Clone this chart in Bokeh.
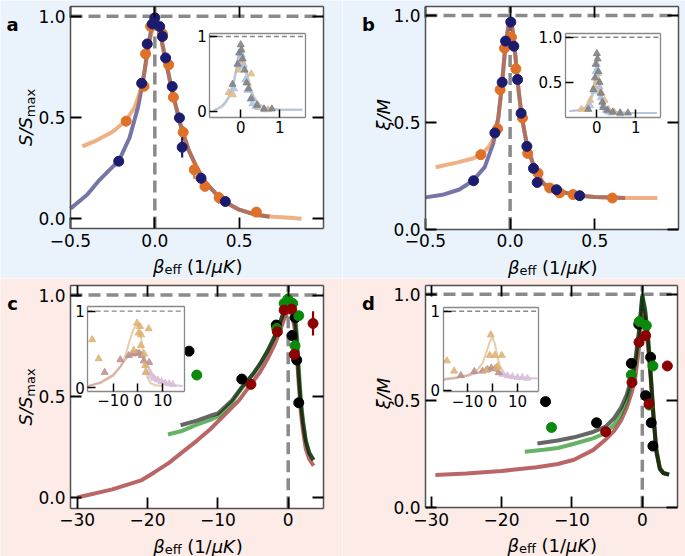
import math
from bokeh.plotting import figure
from bokeh.models import Range1d, LinearAxis, FixedTicker, Label
from bokeh.layouts import column, row
from bokeh.embed import file_html
from bokeh.resources import INLINE

FONT = "DejaVu Sans"
BG_TOP = "#eaf3fc"
BG_BOT = "#fcebe6"

# ---------------- panel a data ----------------
a_blue_x = [-0.214, -0.078, -0.045, -0.015, 0.0, 0.029, 0.045, 0.064, 0.103, 0.146, 0.162, 0.274, 0.418]
a_blue_y = [0.284, 0.669, 0.863, 0.962, 0.992, 0.949, 0.900, 0.794, 0.653, 0.498, 0.353, 0.200, 0.085]
a_blue_e = [0, 0, 0, 0, 0, 0, 0, 0, 0, 0, 0.05, 0, 0]
a_orng_x = [-0.170, -0.064, -0.055, -0.025, 0.045, 0.082, 0.110, 0.168, 0.234, 0.297, 0.381, 0.602]
a_orng_y = [0.482, 0.654, 0.814, 0.950, 0.913, 0.760, 0.600, 0.427, 0.242, 0.160, 0.104, 0.033]
a_orng_e = [0, 0, 0, 0, 0, 0, 0, 0.03, 0.045, 0, 0.03, 0]
a_blue_fit_x = [-0.50, -0.40, -0.33, -0.27, -0.214, -0.15, -0.10, -0.07, -0.04, -0.02, 0.0, 0.02, 0.04, 0.07, 0.10, 0.15, 0.20, 0.25, 0.30, 0.40, 0.50, 0.60, 0.68]
a_blue_fit_y = [0.05, 0.12, 0.19, 0.24, 0.285, 0.40, 0.55, 0.68, 0.85, 0.94, 0.98, 0.95, 0.88, 0.76, 0.64, 0.47, 0.34, 0.25, 0.18, 0.09, 0.045, 0.02, 0.01]
a_orng_fit_x = [-0.43, -0.35, -0.25, -0.17, -0.12, -0.09, -0.06, -0.03, -0.01, 0.0, 0.02, 0.04, 0.07, 0.10, 0.15, 0.20, 0.25, 0.30, 0.40, 0.50, 0.60, 0.70, 0.80, 0.87]
a_orng_fit_y = [0.357, 0.385, 0.43, 0.485, 0.55, 0.62, 0.73, 0.88, 0.95, 0.97, 0.95, 0.88, 0.76, 0.64, 0.47, 0.34, 0.25, 0.18, 0.09, 0.045, 0.02, 0.01, 0.005, 0.0]
# inset a
ia_gray_x = [-0.21, -0.08, -0.04, 0.0, 0.02, 0.05, 0.10, 0.15, 0.20, 0.27, 0.42, 0.60, 0.80]
ia_gray_y = [0.36, 0.63, 0.78, 0.89, 0.82, 0.70, 0.55, 0.38, 0.30, 0.17, 0.08, 0.03, 0.03]
ia_lblu_x = [-0.17, -0.05, 0.0, 0.03, 0.07, 0.12, 0.17, 0.25, 0.30, 0.38, 0.60]
ia_lblu_y = [0.30, 0.62, 0.72, 0.75, 0.60, 0.42, 0.28, 0.16, 0.10, 0.06, 0.02]
ia_tan_x = [-0.31, -0.20, -0.05, -0.02, 0.03, 0.08, 0.18, 0.27, 0.45, 0.70]
ia_tan_y = [0.25, 0.22, 0.55, 0.66, 0.68, 0.62, 0.38, 0.50, 0.05, 0.02]
ia_fit_x = [-0.69, -0.50, -0.40, -0.30, -0.18, -0.10, -0.05, 0.0, 0.05, 0.10, 0.17, 0.25, 0.34, 0.50, 0.68, 1.00, 1.58]
ia_gfit_y = [0.01, 0.06, 0.12, 0.20, 0.40, 0.62, 0.78, 0.86, 0.78, 0.64, 0.50, 0.32, 0.19, 0.08, 0.04, 0.02, 0.02]
ia_bfit_y = [0.01, 0.05, 0.10, 0.18, 0.36, 0.56, 0.68, 0.74, 0.68, 0.56, 0.42, 0.27, 0.16, 0.07, 0.03, 0.02, 0.02]

# ---------------- panel b data ----------------
b_blue_x = [-0.216, -0.090, -0.047, -0.027, 0.004, 0.022, 0.044, 0.065, 0.099, 0.138, 0.160, 0.274, 0.411]
b_blue_y = [0.226, 0.450, 0.687, 0.880, 0.969, 0.856, 0.700, 0.542, 0.387, 0.284, 0.218, 0.184, 0.156]
b_orng_x = [-0.173, -0.074, -0.059, -0.033, 0.008, 0.034, 0.073, 0.104, 0.165, 0.234, 0.293, 0.372, 0.604]
b_orng_y = [0.348, 0.469, 0.652, 0.847, 0.898, 0.750, 0.520, 0.354, 0.261, 0.192, 0.169, 0.161, 0.145]
b_blue_fit_x = [-0.50, -0.40, -0.30, -0.22, -0.15, -0.10, -0.07, -0.05, -0.03, -0.01, 0.0, 0.01, 0.03, 0.05, 0.07, 0.10, 0.15, 0.20, 0.30, 0.40, 0.50, 0.68]
b_blue_fit_y = [0.148, 0.16, 0.185, 0.226, 0.29, 0.40, 0.52, 0.66, 0.84, 0.95, 0.98, 0.96, 0.82, 0.65, 0.52, 0.39, 0.27, 0.21, 0.175, 0.157, 0.15, 0.145]
b_orng_fit_x = [-0.44, -0.31, -0.22, -0.17, -0.12, -0.09, -0.07, -0.05, -0.03, -0.01, 0.0, 0.01, 0.03, 0.05, 0.07, 0.10, 0.15, 0.20, 0.30, 0.40, 0.50, 0.60, 0.70, 0.87]
b_orng_fit_y = [0.289, 0.312, 0.33, 0.348, 0.39, 0.44, 0.52, 0.66, 0.84, 0.95, 0.98, 0.96, 0.82, 0.65, 0.52, 0.39, 0.27, 0.21, 0.175, 0.157, 0.15, 0.147, 0.145, 0.145]
# inset b
ib_gray_x = [-0.22, -0.09, -0.05, -0.03, 0.0, 0.02, 0.04, 0.07, 0.10, 0.14, 0.16, 0.27, 0.41, 0.60, 0.80]
ib_gray_y = [0.20, 0.42, 0.55, 0.70, 0.82, 0.76, 0.62, 0.50, 0.38, 0.28, 0.22, 0.19, 0.17, 0.16, 0.16]
ib_lblu_x = [-0.17, -0.07, -0.03, 0.0, 0.03, 0.07, 0.10, 0.16, 0.23, 0.29, 0.37, 0.60]
ib_lblu_y = [0.24, 0.40, 0.62, 0.70, 0.60, 0.45, 0.33, 0.24, 0.19, 0.17, 0.16, 0.15]
ib_tan_x = [-0.40, -0.25, -0.17, -0.06, 0.0, 0.03, 0.06, 0.12, 0.20, 0.30, 0.45, 0.60]
ib_tan_y = [0.20, 0.22, 0.30, 0.45, 0.55, 0.52, 0.42, 0.38, 0.30, 0.20, 0.17, 0.16]
ib_fit_x = [-0.71, -0.50, -0.30, -0.20, -0.10, -0.05, 0.0, 0.05, 0.10, 0.20, 0.30, 0.50, 0.80, 1.20, 1.55]
ib_gfit_y = [0.18, 0.19, 0.22, 0.27, 0.40, 0.55, 0.80, 0.55, 0.38, 0.25, 0.20, 0.17, 0.16, 0.16, 0.16]
ib_bfit_y = [0.18, 0.19, 0.21, 0.25, 0.36, 0.48, 0.68, 0.50, 0.35, 0.23, 0.19, 0.17, 0.16, 0.16, 0.16]

# ---------------- panel c data ----------------
c_blk_x = [-14.1, -6.6, -1.7, 0.54, 1.01, 1.21, 1.5]
c_blk_y = [0.723, 0.585, 0.852, 0.80, 0.888, 0.679, 0.468]
c_grn_x = [-13.0, -1.63, -0.58, -0.05, 0.63, 0.97, 1.5]
c_grn_y = [0.605, 0.835, 0.959, 0.98, 0.959, 0.75, 0.898]
c_red_x = [-5.3, -1.54, -0.58, 0.48, 0.87, 3.53]
c_red_y = [0.559, 0.819, 0.926, 0.931, 0.707, 0.86]
c_red_e = [0, 0, 0, 0, 0, 0.06]
c_gry_fit_x = [-15.3, -13, -11, -10, -8, -6.6, -5, -4, -3, -2, -1, -0.5, 0, 0.5, 0.9, 1.2, 1.5, 1.8, 2.1, 2.5, 3.0, 3.6]
c_gry_fit_y = [0.357, 0.38, 0.405, 0.415, 0.48, 0.545, 0.61, 0.66, 0.72, 0.79, 0.88, 0.93, 0.975, 0.96, 0.90, 0.78, 0.60, 0.46, 0.37, 0.28, 0.22, 0.185]
c_grn_fit_x = [-17.1, -15, -13, -11, -10, -8, -6.6, -5, -4, -3, -2, -1, -0.5, 0, 0.5, 0.9, 1.2, 1.5, 1.8, 2.1, 2.5, 3.0, 3.6]
c_grn_fit_y = [0.311, 0.33, 0.36, 0.385, 0.40, 0.47, 0.54, 0.61, 0.66, 0.72, 0.79, 0.88, 0.93, 0.985, 0.97, 0.92, 0.82, 0.64, 0.48, 0.38, 0.28, 0.22, 0.185]
c_red_fit_x = [-30, -25, -20.8, -19, -17, -15, -13, -11, -9, -7, -5.5, -4, -3, -2, -1, -0.5, 0, 0.5, 0.9, 1.2, 1.5, 1.8, 2.1, 2.5, 3.0, 3.6]
c_red_fit_y = [0.0, 0.04, 0.086, 0.125, 0.17, 0.225, 0.28, 0.34, 0.41, 0.48, 0.55, 0.62, 0.68, 0.75, 0.84, 0.89, 0.92, 0.91, 0.84, 0.72, 0.56, 0.42, 0.33, 0.24, 0.19, 0.157]
# inset c
ic_tan_x = [-18.4, -15.8, -1.7, -0.4, 0.24, 0.8, 1.2, 1.3, 2.5, 2.9, 3.3, 4.3]
ic_tan_y = [0.627, 0.378, 0.487, 0.843, 0.713, 0.80, 0.552, 0.69, 0.44, 0.29, 0.20, 0.77]
ic_mauve_x = [-13.4, -7.1, -3.7, -2.0, -0.5, 0.5, 1.5, 2.3, 4.5]
ic_mauve_y = [0.20, 0.365, 0.42, 0.44, 0.45, 0.45, 0.42, 0.35, 0.33]
ic_purp_x = [3.0, 5.0, 6.5, 8.0, 9.5, 11.0, 12.5, 14.0]
ic_purp_y = [0.20, 0.15, 0.12, 0.10, 0.08, 0.06, 0.05, 0.04]
ic_tan_fit_x = [-20, -15, -10, -7, -5, -3.5, -2, -1, 0, 1, 2, 3, 4, 5, 7, 10]
ic_tan_fit_y = [0.02, 0.06, 0.15, 0.27, 0.42, 0.60, 0.75, 0.80, 0.83, 0.72, 0.48, 0.25, 0.12, 0.06, 0.03, 0.02]
ic_mauve_fit_x = [-20, -15, -10, -7, -5, -3, -1, 0, 1, 2, 3, 5, 7, 10, 15]
ic_mauve_fit_y = [0.02, 0.07, 0.17, 0.28, 0.37, 0.44, 0.48, 0.48, 0.47, 0.42, 0.34, 0.20, 0.12, 0.06, 0.03]
ic_purp_fit_x = [0, 2, 4, 6, 8, 10, 12, 15, 18]
ic_purp_fit_y = [0.45, 0.40, 0.28, 0.17, 0.11, 0.07, 0.05, 0.03, 0.02]

# ---------------- panel d data ----------------
d_blk_x = [-13.75, -6.5, -1.56, -0.5, 0.47, 1.18, 1.27, 1.51]
d_blk_y = [0.497, 0.398, 0.676, 0.859, 0.525, 0.705, 0.398, 0.289]
d_grn_x = [-12.9, -1.56, -0.43, 0.57, 1.0, 1.51]
d_grn_y = [0.376, 0.622, 0.872, 0.853, 0.481, 0.664]
d_red_x = [-5.2, -1.47, -0.47, 0.47, 0.95, 3.56]
d_red_y = [0.356, 0.587, 0.775, 0.806, 0.486, 0.664]
d_gry_fit_x = [-14.9, -12, -9.7, -7, -5.2, -4, -3, -2.2, -1.5, -1, -0.5, 0, 0.4, 0.8, 1.2, 1.6, 2.0, 2.5, 3.0, 3.8]
d_gry_fit_y = [0.301, 0.315, 0.33, 0.355, 0.38, 0.42, 0.47, 0.53, 0.61, 0.69, 0.82, 0.99, 0.92, 0.80, 0.62, 0.42, 0.26, 0.18, 0.162, 0.155]
d_grn_fit_x = [-16.7, -14, -12, -9.7, -7, -5.2, -4, -3, -2.2, -1.5, -1, -0.5, 0, 0.4, 0.8, 1.2, 1.6, 2.0, 2.5, 3.0, 3.8]
d_grn_fit_y = [0.262, 0.272, 0.28, 0.30, 0.325, 0.35, 0.39, 0.44, 0.50, 0.59, 0.67, 0.80, 1.0, 0.93, 0.81, 0.63, 0.43, 0.27, 0.185, 0.163, 0.155]
d_red_fit_x = [-29.4, -25, -20, -15, -12, -9.7, -7, -5.2, -4, -3, -2.2, -1.5, -1, -0.5, 0, 0.4, 0.8, 1.2, 1.6, 2.0, 2.5, 3.0, 3.8]
d_red_fit_y = [0.153, 0.16, 0.172, 0.19, 0.205, 0.225, 0.27, 0.32, 0.36, 0.41, 0.47, 0.54, 0.61, 0.74, 0.93, 0.88, 0.76, 0.60, 0.42, 0.27, 0.185, 0.163, 0.155]
# inset d
id_tan_x = [-18.3, -15.4, -2.6, -1.1, -0.7, 0.9, 1.7, 2.0, 3.7]
id_tan_y = [0.37, 0.24, 0.25, 0.44, 0.70, 0.44, 0.28, 0.30, 0.44]
id_mauve_x = [-12.7, -7.3, -4.0, -2.0, -0.5, 1.0, 2.5]
id_mauve_y = [0.185, 0.235, 0.24, 0.26, 0.28, 0.27, 0.22]
id_purp_x = [4, 6, 8, 10, 12, 14]
id_purp_y = [0.20, 0.18, 0.17, 0.16, 0.16, 0.15]
id_tan_fit_x = [-19.8, -15, -10, -6, -4, -2, -1, 0, 1, 2, 3, 5, 8, 12]
id_tan_fit_y = [0.14, 0.16, 0.19, 0.26, 0.34, 0.52, 0.62, 0.67, 0.58, 0.42, 0.30, 0.20, 0.17, 0.16]
id_mauve_fit_x = [-19.8, -15, -10, -6, -3, -1, 0, 1, 3, 5, 8]
id_mauve_fit_y = [0.13, 0.15, 0.18, 0.22, 0.26, 0.28, 0.28, 0.27, 0.22, 0.18, 0.15]
id_purp_fit_x = [0, 3, 6, 9, 12, 15, 18]
id_purp_fit_y = [0.26, 0.22, 0.18, 0.16, 0.155, 0.15, 0.15]

# ---------------- ticks / reference levels ----------------
ab_xticks = [-0.5, 0.0, 0.5]
ab_xlabels = ["\u22120.5", "0.0", "0.5"]
cd_xticks = [-30, -20, -10, 0]
cd_xlabels = ["\u221230", "\u221220", "\u221210", "0"]
yticks = [0.0, 0.5, 1.0]
ylabels = ["0.0", "0.5", "1.0"]
ref_beta = 0.0   # vertical dashed line
ref_level = 1.0  # horizontal dashed line

NAVY = "#191970"
ORANGE = "#e07020"
FRAME = "#505050"


def span_range(d0, d1, p0, p1, total):
    s = (d1 - d0) / (p1 - p0)
    start = d0 - p0 * s
    return start, start + total * s


def add_axis(p, side, ticks, loc, bounds, labels=None, rn=None, size=17, tick_len=11,
             line_color=FRAME, line_width=1.5):
    kw = dict(x_range_name=rn, y_range_name=rn) if rn else {}
    ax = LinearAxis(fixed_location=loc, bounds=bounds, ticker=FixedTicker(ticks=ticks), **kw)
    ax.axis_line_color = line_color
    ax.axis_line_width = line_width
    ax.major_tick_in = tick_len
    ax.major_tick_out = 0
    ax.major_tick_line_color = "black"
    ax.major_tick_line_width = 1.8 if rn is None else 1.5
    ax.minor_tick_line_color = None
    if labels is None:
        ax.major_label_overrides = {t: "" for t in ticks}
        ax.major_label_text_color = None
        ax.major_label_text_font_size = "10px"
        ax.major_label_standoff = -20
    else:
        ax.major_label_overrides = dict(zip(ticks, labels))
        ax.major_label_text_font = FONT
        ax.major_label_text_font_size = f"{size}px"
        ax.major_label_text_color = "black"
        ax.major_label_standoff = 5 if rn is None else 3
    p.add_layout(ax, side)


def make_panel(w, h, inner, xr, yr, bg, xt, xl):
    ix0, ix1, iyt, iyb = inner
    xs, xe = span_range(xr[0], xr[1], ix0, ix1, w)
    ys, ye = span_range(yr[0], yr[1], h - iyb, h - iyt, h)
    p = figure(width=w, height=h, x_range=Range1d(xs, xe), y_range=Range1d(ys, ye),
               output_backend="svg", toolbar_location=None,
               x_axis_location=None, y_axis_location=None,
               min_border=0, border_fill_color=bg, background_fill_color=bg,
               outline_line_color=None)
    p.xgrid.visible = False
    p.ygrid.visible = False
    p.quad(left=[xr[0]], right=[xr[1]], bottom=[yr[0]], top=[yr[1]], fill_color="white",
           line_color=None)
    p.line(x=[ref_beta, ref_beta], y=[yr[0], yr[1]], line_color="#8a8a8a", line_width=3.5,
           line_dash="12 6")
    p.line(x=[xr[0], xr[1]], y=[ref_level, ref_level], line_color="#8a8a8a", line_width=3.5,
           line_dash="12 6")
    add_axis(p, "below", xt, yr[0], xr, xl)
    add_axis(p, "above", xt, yr[1], xr)
    add_axis(p, "left", yticks, xr[0], yr, ylabels)
    add_axis(p, "right", yticks, xr[1], yr)
    return p


def txt(p, x, y, text, dx=0, dy=0, size=18, style="normal", align="left", base="alphabetic",
        angle=0.0):
    p.add_layout(Label(x=x, y=y, x_offset=dx, y_offset=dy, text=text, text_font=FONT,
                       text_font_size=f"{size}px", text_font_style=style, text_align=align,
                       text_baseline=base, angle=angle, text_color="black"))


def xlabel(p, xr, yr):
    xc = (xr[0] + xr[1]) / 2
    y0 = yr[0]
    txt(p, xc, y0, "\u03b2", dx=-44, dy=-38, style="italic")
    txt(p, xc, y0, "eff", dx=-32.5, dy=-41, size=13)
    txt(p, xc, y0, "(1/", dx=-10, dy=-38)
    txt(p, xc, y0, "\u03bcK", dx=14.5, dy=-38, style="italic")
    txt(p, xc, y0, ")", dx=38.5, dy=-38)


def ylabel_S(p, xr, yr):
    yc = (yr[0] + yr[1]) / 2
    txt(p, xr[0], yc, "S/S", dx=-45, dy=-14, style="italic", align="center", base="middle",
        angle=math.pi / 2)
    txt(p, xr[0], yc, "max", dx=-40, dy=14.5, size=13, align="center", base="middle",
        angle=math.pi / 2)


def ylabel_xi(p, xr, yr):
    yc = (yr[0] + yr[1]) / 2
    txt(p, xr[0], yc, "\u03be/M", dx=-42, dy=3, style="italic", align="center", base="middle",
        angle=math.pi / 2)


def letter(p, xr, yr, s, dx, dy):
    txt(p, xr[0], yr[1], s, dx=dx, dy=dy, style="bold", align="center")


def add_inset(p, w, h, inner, frac, xr, yr, yt, ytl, xt, xtl):
    name = "ins"
    ix0, ix1, iyt, iyb = inner
    fx0, fx1, fyt, fyb = frac
    px0 = ix0 + fx0 * (ix1 - ix0)
    px1 = ix0 + fx1 * (ix1 - ix0)
    pyt = iyt + fyt * (iyb - iyt)
    pyb = iyt + fyb * (iyb - iyt)
    xs, xe = span_range(xr[0], xr[1], px0, px1, w)
    ys, ye = span_range(yr[0], yr[1], h - pyb, h - pyt, h)
    p.extra_x_ranges = {name: Range1d(xs, xe)}
    p.extra_y_ranges = {name: Range1d(ys, ye)}
    kw = dict(x_range_name=name, y_range_name=name)
    p.quad(left=[xr[0]], right=[xr[1]], bottom=[yr[0]], top=[yr[1]], fill_color="white",
           line_color=None, **kw)
    p.line(x=[xr[0], xr[1]], y=[ref_level, ref_level], line_color="#888888", line_width=1.4,
           line_dash="5 3", **kw)
    add_axis(p, "below", xt, yr[0], xr, xtl, rn=name, size=15, tick_len=8, line_color="#888888", line_width=1.3)
    add_axis(p, "left", yt, xr[0], yr, ytl, rn=name, size=15, tick_len=8, line_color="#888888", line_width=1.3)
    add_axis(p, "above", [], yr[1], xr, rn=name, line_color="#888888", line_width=1.3)
    add_axis(p, "right", [], xr[1], yr, rn=name, line_color="#888888", line_width=1.3)
    return kw


def points(p, xs, ys, color, errs=None, size=10):
    if errs is not None:
        ex = [x for x, e in zip(xs, errs) if e > 0]
        ey0 = [y - e for y, e in zip(ys, errs) if e > 0]
        ey1 = [y + e for y, e in zip(ys, errs) if e > 0]
        p.segment(x0=ex, y0=ey0, x1=ex, y1=ey1, line_color=color, line_width=2.2)
    p.scatter(xs, ys, size=size, fill_color=color, line_color=color)


def tri(p, xs, ys, color, kw, alpha=0.85):
    p.scatter(xs, ys, marker="triangle", size=7, fill_color=color, line_color=color,
              fill_alpha=alpha, line_alpha=alpha, **kw)


# ---------------- panel a ----------------
A_X = (-0.5, 1.0)
A_Y = (-0.048, 1.048)
A_IN = (70, 323, 6, 228)
pa = make_panel(342, 278, A_IN, A_X, A_Y, BG_TOP, ab_xticks, ab_xlabels)
pa.line(a_blue_fit_x, a_blue_fit_y, line_color=NAVY, line_alpha=0.6, line_width=4)
pa.line(a_orng_fit_x, a_orng_fit_y, line_color=ORANGE, line_alpha=0.55, line_width=4)
points(pa, a_orng_x, a_orng_y, "#df7028", a_orng_e)
points(pa, a_blue_x, a_blue_y, "#1c1c6e", a_blue_e)
kw = add_inset(pa, 342, 278, A_IN, (0.551, 0.930, 0.123, 0.501), (-0.79, 1.67), (-0.088, 1.036),
               [1.0, 0.0], ["1", "0"], [0, 1], ["0", "1"])
pa.line(ia_fit_x, ia_gfit_y, line_color="#a0a0a0", line_alpha=0.6, line_width=2, **kw)
pa.line(ia_fit_x, ia_bfit_y, line_color="#b0c4de", line_alpha=0.8, line_width=2, **kw)
tri(pa, ia_tan_x, ia_tan_y, "#deb887", kw)
tri(pa, ia_lblu_x, ia_lblu_y, "#a9c2e2", kw)
tri(pa, ia_gray_x, ia_gray_y, "#7f7f7f", kw)
xlabel(pa, A_X, A_Y)
ylabel_S(pa, A_X, A_Y)
letter(pa, A_X, A_Y, "a", -58, -18)

# ---------------- panel b ----------------
B_X = (-0.5, 0.995)
B_Y = (0.0, 1.042)
B_IN = (83, 336, 6, 228.5)
pb = make_panel(343, 278, B_IN, B_X, B_Y, BG_TOP, ab_xticks, ab_xlabels)
pb.line(b_blue_fit_x, b_blue_fit_y, line_color=NAVY, line_alpha=0.6, line_width=4)
pb.line(b_orng_fit_x, b_orng_fit_y, line_color=ORANGE, line_alpha=0.55, line_width=4)
points(pb, b_orng_x, b_orng_y, "#df7028")
points(pb, b_blue_x, b_blue_y, "#1c1c6e")
kw = add_inset(pb, 343, 278, B_IN, (0.553, 0.929, 0.123, 0.501), (-0.81, 1.64), (0.104, 1.038),
               [1.0, 0.5], ["1.0", "0.5"], [0, 1], ["0", "1"])
pb.line(ib_fit_x, ib_gfit_y, line_color="#a0a0a0", line_alpha=0.6, line_width=2, **kw)
pb.line(ib_fit_x, ib_bfit_y, line_color="#b0c4de", line_alpha=0.8, line_width=2, **kw)
tri(pb, ib_tan_x, ib_tan_y, "#deb887", kw)
tri(pb, ib_lblu_x, ib_lblu_y, "#a9c2e2", kw)
tri(pb, ib_gray_x, ib_gray_y, "#7f7f7f", kw)
xlabel(pb, B_X, B_Y)
ylabel_xi(pb, B_X, B_Y)
letter(pb, B_X, B_Y, "b", -57, -18)

# ---------------- panel c ----------------
C_X = (-30.95, 5.06)
C_Y = (-0.053, 1.046)
C_IN = (70, 323.3, 7.3, 229.7)
pc = make_panel(342, 278, C_IN, C_X, C_Y, BG_BOT, cd_xticks, cd_xlabels)
pc.line(c_red_fit_x, c_red_fit_y, line_color="#8b0000", line_alpha=0.6, line_width=4)
pc.line(c_grn_fit_x, c_grn_fit_y, line_color="#008000", line_alpha=0.6, line_width=4)
pc.line(c_gry_fit_x, c_gry_fit_y, line_color="#000000", line_alpha=0.6, line_width=4)
points(pc, c_blk_x, c_blk_y, "#000000")
points(pc, c_grn_x, c_grn_y, "#0a8a0a")
points(pc, c_red_x, c_red_y, "#8b0000", c_red_e)
kw = add_inset(pc, 342, 278, C_IN, (0.068, 0.452, 0.095, 0.475), (-20.2, 18.9), (-0.05, 1.055),
               [1.0, 0.0], ["1", "0"], [-10, 0, 10], ["\u221210", "0", "10"])
pc.line(ic_tan_fit_x, ic_tan_fit_y, line_color="#deb887", line_alpha=0.7, line_width=2, **kw)
pc.line(ic_mauve_fit_x, ic_mauve_fit_y, line_color="#c9a0a0", line_alpha=0.7, line_width=2, **kw)
pc.line(ic_purp_fit_x, ic_purp_fit_y, line_color="#d8bfd8", line_alpha=0.9, line_width=2, **kw)
tri(pc, ic_purp_x, ic_purp_y, "#d8bfd8", kw)
tri(pc, ic_mauve_x, ic_mauve_y, "#bc8f8f", kw)
tri(pc, ic_tan_x, ic_tan_y, "#deb070", kw)
xlabel(pc, C_X, C_Y)
ylabel_S(pc, C_X, C_Y)
letter(pc, C_X, C_Y, "c", -58, -18)

# ---------------- panel d ----------------
D_X = (-30.8, 5.0)
D_Y = (0.0, 1.042)
D_IN = (83, 335, 6.7, 229.3)
pd_ = make_panel(343, 278, D_IN, D_X, D_Y, BG_BOT, cd_xticks, cd_xlabels)
pd_.line(d_red_fit_x, d_red_fit_y, line_color="#8b0000", line_alpha=0.6, line_width=4)
pd_.line(d_grn_fit_x, d_grn_fit_y, line_color="#008000", line_alpha=0.6, line_width=4)
pd_.line(d_gry_fit_x, d_gry_fit_y, line_color="#000000", line_alpha=0.6, line_width=4)
points(pd_, d_blk_x, d_blk_y, "#000000")
points(pd_, d_grn_x, d_grn_y, "#0a8a0a")
points(pd_, d_red_x, d_red_y, "#8b0000")
kw = add_inset(pd_, 343, 278, D_IN, (0.070, 0.450, 0.099, 0.478), (-19.8, 18.6), (-0.02, 1.05),
               [1.0, 0.0], ["1", "0"], [-10, 0, 10], ["\u221210", "0", "10"])
pd_.line(id_tan_fit_x, id_tan_fit_y, line_color="#deb887", line_alpha=0.7, line_width=2, **kw)
pd_.line(id_mauve_fit_x, id_mauve_fit_y, line_color="#c9a0a0", line_alpha=0.7, line_width=2, **kw)
pd_.line(id_purp_fit_x, id_purp_fit_y, line_color="#d8bfd8", line_alpha=0.9, line_width=2, **kw)
tri(pd_, id_purp_x, id_purp_y, "#d8bfd8", kw)
tri(pd_, id_mauve_x, id_mauve_y, "#bc8f8f", kw)
tri(pd_, id_tan_x, id_tan_y, "#deb070", kw)
xlabel(pd_, D_X, D_Y)
ylabel_xi(pd_, D_X, D_Y)
letter(pd_, D_X, D_Y, "d", -57, -18)

layout = column(row(pa, pb), row(pc, pd_))
open("out.html", "w").write(file_html(layout, INLINE))
